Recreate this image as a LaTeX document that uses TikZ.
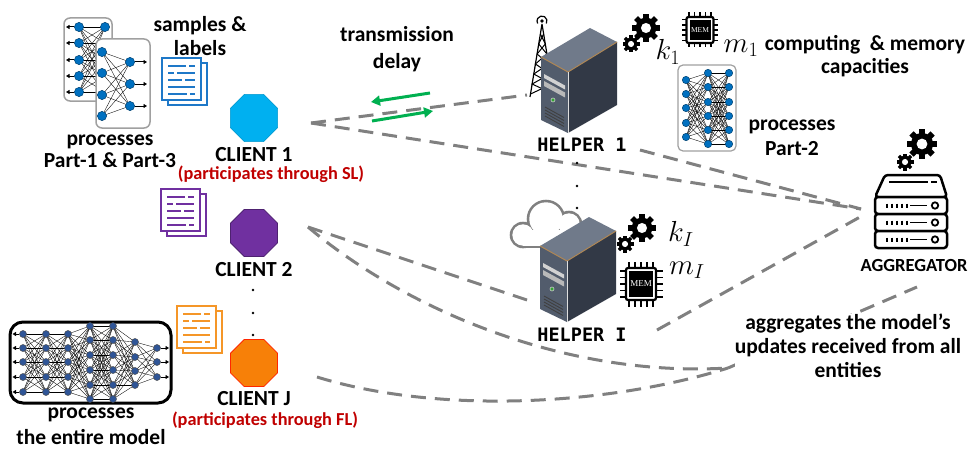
\RequirePackage{fix-cm}
\documentclass[tikz,border=0pt]{standalone}
\usepackage{fontspec}
\setmainfont{Carlito}
\newfontfamily\helperfont{DejaVu Sans Mono}
\newfontfamily\memfont{Liberation Serif}
\usetikzlibrary{shapes.geometric,arrows.meta}

\definecolor{linkgray}{RGB}{128,128,128}
\definecolor{sendgreen}{RGB}{0,176,80}
\definecolor{slred}{RGB}{192,0,0}
\definecolor{cyanclient}{RGB}{0,176,240}
\definecolor{purpleclient}{RGB}{112,48,160}
\definecolor{orangeclient}{RGB}{247,128,8}
\definecolor{docblue}{RGB}{30,120,200}
\definecolor{docpurple}{RGB}{112,48,160}
\definecolor{docorange}{RGB}{245,150,40}
\definecolor{neuron}{RGB}{0,112,192}
\definecolor{neurondark}{RGB}{47,85,151}
\definecolor{boxgray}{RGB}{160,160,160}
\definecolor{srvfront}{RGB}{82,92,108}
\definecolor{srvside}{RGB}{50,57,70}
\definecolor{srvtop}{RGB}{112,122,138}
\definecolor{srvtrim}{RGB}{175,135,85}

\tikzset{
  link/.style={draw=linkgray, line width=3pt, dash pattern=on 15pt off 9pt},
  delay/.style={draw=sendgreen, line width=3pt, -{Triangle[length=9pt,width=10pt]}},
  txt/.style={font=\fontsize{21.5}{#1}\selectfont\bfseries, align=center, inner sep=0pt},
  txt/.default=24,
  redtxt/.style={font=\fontsize{18.3}{20}\selectfont\bfseries, text=slred, inner sep=0pt},
  helpertxt/.style={font=\helperfont\bfseries\fontsize{18.5}{20}\selectfont, inner sep=0pt},
  aggtxt/.style={font=\fontsize{18.5}{20}\selectfont\bfseries, inner sep=0pt},
  mathlbl/.style={font=\fontsize{29}{32}\selectfont, inner sep=0pt},
  client/.style={regular polygon, regular polygon sides=8, minimum size=51pt, inner sep=0pt},
  neuronA/.style={fill=neuron, draw=neuron!60!black, line width=0.5pt},
  neuronB/.style={fill=neurondark, draw=black!70, line width=0.5pt},
  nnedge/.style={black, line width=0.35pt},
  nnio/.style={black, line width=1pt, -{Triangle[length=3.5pt,width=4pt]}},
  nnbox/.style={draw=boxgray, fill=white, line width=1.5pt, rounded corners=6pt},
  dot/.style={fill=black},
}

% fully connected edges between two layers: x1, y-list1, x2, y-list2
\newcommand{\nnedges}[4]{%
  \foreach \ya in {#2}{\foreach \yb in {#4}{\draw[nnedge] (#1,-\ya) -- (#3,-\yb);}}}
% one layer of neurons: x, y-list, style, radius
\newcommand{\nnlayer}[4]{%
  \foreach \yy in {#2}{\filldraw[#3] (#1,-\yy) circle[radius=#4];}}

% gear: centre x, centre y, outer radius
\newcommand{\gearicon}[3]{%
  \begin{scope}[shift={(#1,#2)}]
    \fill[black] (0,0) circle[radius=0.74*#3];
    \foreach \ang in {0,45,...,315}{\fill[black,rotate=\ang] (-0.2*#3,0) rectangle (0.2*#3,#3);}
    \fill[white] (0,0) circle[radius=0.36*#3];
  \end{scope}}

% memory chip: name, centre x, centre y, body width, body height, label size, pin length
\newcommand{\chipicon}[7]{%
  \begin{scope}[shift={(#2,#3)}]
    \foreach \i in {0,...,4}{
      \pgfmathsetmacro{\px}{-#4/2+(\i+0.5)*#4/5}
      \pgfmathsetmacro{\py}{-#5/2+(\i+0.5)*#5/5}
      \draw[line width=1.7pt] (\px,#5/2) -- (\px,#5/2+#7);
      \draw[line width=1.7pt] (\px,-#5/2) -- (\px,-#5/2-#7);
      \draw[line width=1.7pt] (#4/2,\py) -- (#4/2+#7,\py);
      \draw[line width=1.7pt] (-#4/2,\py) -- (-#4/2-#7,\py);
    }
    \draw[line width=2.2pt, fill=white, rounded corners=2pt] (-#4/2,-#5/2) rectangle (#4/2,#5/2);
    \fill[black] (-#4/2+3,-#5/2+3) rectangle (#4/2-3,#5/2-3);
    \node[text=white, font=\memfont\fontsize{#6}{#6}\selectfont, inner sep=0pt] (#1) at (0,0) {MEM};
  \end{scope}}

% document stack: top-left x, top-left y (downwards), colour
\newcommand{\docicon}[3]{%
  \begin{scope}[shift={(#1,-#2)}]
    \draw[#3, line width=2.4pt, fill=white] (6,-5) rectangle (45,-47);
    \draw[#3, line width=2.4pt, fill=white] (0,0) rectangle (39,-42);
    \foreach \ya/\xa/\xb/\xc/\xd in {8/6/24/27/33, 15/6/12/15/33, 22/6/20/23/33, 29/6/33/33/33, 36/6/25/28/33}{
      \draw[#3, line width=2.2pt] (\xa,-\ya) -- (\xb,-\ya) (\xc,-\ya) -- (\xd,-\ya);
    }
  \end{scope}}

% tower server, drawn at the position of the first helper
\newcommand{\servertower}{%
  \fill[srvtop] (541,-57) -- (590,-28) -- (617,-42) -- (568,-72) -- cycle;
  \fill[srvfront] (541,-57) -- (568,-72) -- (568,-133) -- (541,-120) -- cycle;
  \fill[srvside] (568,-72) -- (617,-42) -- (617,-105) -- (568,-133) -- cycle;
  \draw[srvtrim, line width=1pt] (541,-57) -- (568,-72) -- (617,-42);
  \draw[white!75!gray, line width=0.8pt] (568,-72) -- (568,-133);
  \fill[gray!35] (544,-74) -- (565,-85.5) -- (565,-89.5) -- (544,-78) -- cycle;
  \fill[gray!55] (544,-81) -- (565,-92.5) -- (565,-97.5) -- (544,-86) -- cycle;
  \filldraw[fill=green!55!black!80, draw=gray!40, line width=0.6pt] (553,-100) circle[radius=2];
  \foreach \k in {0,1,2,3}{\draw[black!75, line width=0.9pt] (545,{-107-3*\k}) -- (564,{-117.5-3*\k});}
}

\begin{document}
\begin{tikzpicture}[x=1pt,y=1pt]
\useasboundingbox (0,0) rectangle (974,-452);

% ---------- connection points ----------
\coordinate (c1p) at (311,-123);
\coordinate (h1w) at (527,-95);
\coordinate (h1e) at (640,-150);
\coordinate (aggw) at (861,-209);
\coordinate (aggw2) at (860,-217);
\coordinate (hIe) at (657,-330);
\coordinate (hIw) at (527,-300);
\coordinate (c2p) at (308,-227);
\coordinate (cjp) at (317,-377);
\coordinate (aggs) at (917,-287);
\coordinate (mrg) at (728,-368);

% ---------- dashed links ----------
\draw[link] (c1p) -- (h1w);
\draw[link] (c1p) -- (aggw);
\draw[link] (h1e) -- (aggw);
\draw[link] (hIe) -- (aggw2);
\draw[link] (c2p) -- (hIw);
\draw[link] (c2p) .. controls (400,-305) and (560,-378) .. (mrg);
\draw[link] (cjp) .. controls (440,-415) and (610,-405) .. (mrg);
\draw[link] (mrg) -- (aggs);

% ---------- transmission delay arrows ----------
\coordinate (dl1) at (430,-93);
\coordinate (dl2) at (371,-102);
\coordinate (dr1) at (372,-121);
\coordinate (dr2) at (433,-111);
\draw[delay] (dl1) -- (dl2);
\draw[delay] (dr1) -- (dr2);
\node[txt=27] (delayTxt) at (397,-49) {transmission\\delay};

% ---------- split-learning client model (Part-1 & Part-3) ----------
\draw[nnbox] (64,-18) rectangle (112,-101);
\nnedges{79}{27,43,60,76,92}{105}{27,43,60,76,92}
\nnlayer{79}{27,43,60,76,92}{neuronA}{4.6}
\nnlayer{105}{27,43,60,76,92}{neuronA}{4.6}
\foreach \yy in {27,43,60,76,92}{\draw[nnio] (74,-\yy) -- (66,-\yy);}
\draw[nnbox] (96,-39) rectangle (150,-128);
\nnedges{102}{52,73,95,116}{130}{62,84,106}
\nnlayer{102}{52,73,95,116}{neuronA}{4.6}
\nnlayer{130}{62,84,106}{neuronA}{4.6}
\foreach \yy in {62,84,106}{\draw[nnio] (135,-\yy) -- (147,-\yy);}
\node[txt=22] (part13Txt) at (110,-151) {processes\\Part-1 \& Part-3};

\docicon{162}{58}{docblue}
\node[txt=24] (samplesTxt) at (200,-36) {samples \&\\labels};

% ---------- clients ----------
\node[client, fill=cyanclient, draw=cyanclient!85!black, line width=0.5pt] (c1) at (254,-118) {};
\node[txt, text depth=0pt] (c1Txt) at (254,-154) {CLIENT 1};
\node[redtxt] (c1Mode) at (271,-174) {(participates through SL)};

\docicon{161}{189}{docpurple}
\node[client, fill=purpleclient, draw=purpleclient!70!black, line width=0.8pt] (c2) at (254,-233) {};
\node[txt] (c2Txt) at (254,-270) {CLIENT 2};

\fill[dot] (253,-290) circle[radius=1.3];
\fill[dot] (253,-313) circle[radius=1.3];
\fill[dot] (253,-335) circle[radius=1.3];

\docicon{177}{306}{docorange}
\node[client, fill=orangeclient, draw=red!70!orange, line width=0.8pt] (cj) at (254,-363) {};
\node[txt, text depth=0pt] (cjTxt) at (254,-398) {CLIENT J};
\node[redtxt] (cjMode) at (265,-420) {(participates through FL)};

% ---------- federated client model (entire model) ----------
\draw[black, line width=3pt, rounded corners=13pt, fill=white] (10,-322) rectangle (171,-403);
\nnedges{23}{334,348,362,377,392}{46}{334,348,362,377,392}
\nnedges{46}{334,348,362,377,392}{68}{334,348,362,377,392}
\nnedges{68}{334,348,362,377,392}{90}{326,340,355,370,385,399}
\nnedges{90}{326,340,355,370,385,399}{113}{326,340,355,370,385,399}
\nnedges{113}{326,340,355,370,385,399}{135}{342,357,371,385}
\nnedges{135}{342,357,371,385}{157}{348,362,377}
\nnlayer{23}{334,348,362,377,392}{neuronB}{3.5}
\nnlayer{46}{334,348,362,377,392}{neuronB}{3.5}
\nnlayer{68}{334,348,362,377,392}{neuronB}{3.5}
\nnlayer{90}{326,340,355,370,385,399}{neuronB}{3.5}
\nnlayer{113}{326,340,355,370,385,399}{neuronB}{3.5}
\nnlayer{135}{342,357,371,385}{neuronB}{3.5}
\nnlayer{157}{348,362,377}{neuronB}{3.5}
\foreach \yy in {334,348,362,377,392}{\draw[nnio] (19,-\yy) -- (12.5,-\yy);}
\foreach \yy in {348,362,377}{\draw[nnio] (161,-\yy) -- (169,-\yy);}
\node[txt=26] (entireTxt) at (91,-426) {processes\\the entire model};

% ---------- helper 1 ----------
\draw[line width=1.2pt] (542,-24) -- (530,-97) (542,-24) -- (554,-97);
\draw[line width=1pt] (540.4,-34) -- (545.3,-44) -- (537.1,-54) -- (548.6,-64) -- (533.8,-74) -- (551.9,-84) -- (530.5,-94);
\draw[line width=1pt] (543.6,-34) -- (538.7,-44) -- (546.9,-54) -- (535.4,-64) -- (550.2,-74) -- (532.1,-84) -- (553.5,-94);
\fill (542,-21) circle[radius=1.8];
\draw[line width=1.2pt] (542,-21) ++(-30:5) arc[start angle=-30, end angle=210, radius=5];
\servertower
\node[helpertxt] (h1Txt) at (582,-145) {HELPER 1};

\gearicon{646}{-28}{14}
\gearicon{631}{-44}{8.5}
\node[mathlbl] (k1) at (668,-52) {$k_1$};
\chipicon{mem1}{700}{-30}{27}{26}{7.5}{4.5}
\node[mathlbl] (m1) at (741,-48) {$m_1$};

\draw[nnbox, line width=1.2pt, rounded corners=5pt] (678,-65) rectangle (736,-151);
\nnedges{686}{80,94,108,123,137}{708}{73,87,102,116,130,144}
\nnedges{708}{73,87,102,116,130,144}{729}{73,87,102,116,130,144}
\nnlayer{686}{80,94,108,123,137}{neuronA}{3.7}
\nnlayer{708}{73,87,102,116,130,144}{neuronA}{3.7}
\nnlayer{729}{73,87,102,116,130,144}{neuronA}{3.7}
\node[txt=25] (part2Txt) at (792,-138) {processes\\Part-2};

\node[txt=23] (capTxt) at (865,-56) {computing\ \ \& memory\\capacities};

% dots between the helpers
\fill[dot] (577,-163) circle[radius=1.3];
\fill[dot] (577,-186) circle[radius=1.3];
\fill[dot] (577,-208) circle[radius=1.3];

% ---------- helper I ----------
\fill[linkgray] (523,-235) circle[radius=13.3];
\fill[linkgray] (546,-219) circle[radius=19.3];
\fill[linkgray] (569,-224) circle[radius=13.3];
\fill[linkgray] (523,-248.3) rectangle (569,-230);
\fill[white] (523,-235) circle[radius=10.7];
\fill[white] (546,-219) circle[radius=16.7];
\fill[white] (569,-224) circle[radius=10.7];
\fill[white] (523,-245.7) rectangle (569,-230);
\begin{scope}[shift={(-1,-189)}]
  \servertower
\end{scope}
\node[helpertxt] (hITxt) at (582,-335) {HELPER I};

\gearicon{642}{-228}{14}
\gearicon{625}{-244}{8.5}
\node[mathlbl] (kI) at (681,-234) {$k_I$};
\chipicon{memI}{641}{-284}{30}{32}{9}{6.5}
\node[mathlbl] (mI) at (687,-270) {$m_I$};

% ---------- aggregator ----------
\gearicon{922}{-144}{15}
\gearicon{905}{-162}{8.5}
\draw[line width=2.5pt, rounded corners=3pt, fill=white] (875,-197) -- (885,-175) -- (940,-175) -- (947,-197) -- cycle;
\draw[line width=2pt] (889,-182) -- (928,-182) (931,-182) -- (937,-182);
\foreach \dy in {0,17,34}{
  \begin{scope}[shift={(0,-\dy)}]
    \draw[line width=2.5pt, rounded corners=3pt, fill=white] (875,-197) rectangle (947,-214);
    \foreach \tx in {887,892,897,902,907}{\draw[line width=1.6pt] (\tx,-203.5) -- (\tx,-207.5);}
    \draw[line width=1.8pt] (910,-205.5) -- (927,-205.5);
    \draw[line width=1.8pt] (935,-205.5) circle[radius=3.2];
  \end{scope}
}
\node[aggtxt] (aggTxt) at (914,-265) {AGGREGATOR};

\node[txt=24, fill=white] (aggNote) at (848,-346) {aggregates the model’s\\updates received from all\\entities};

\end{tikzpicture}
\end{document}
